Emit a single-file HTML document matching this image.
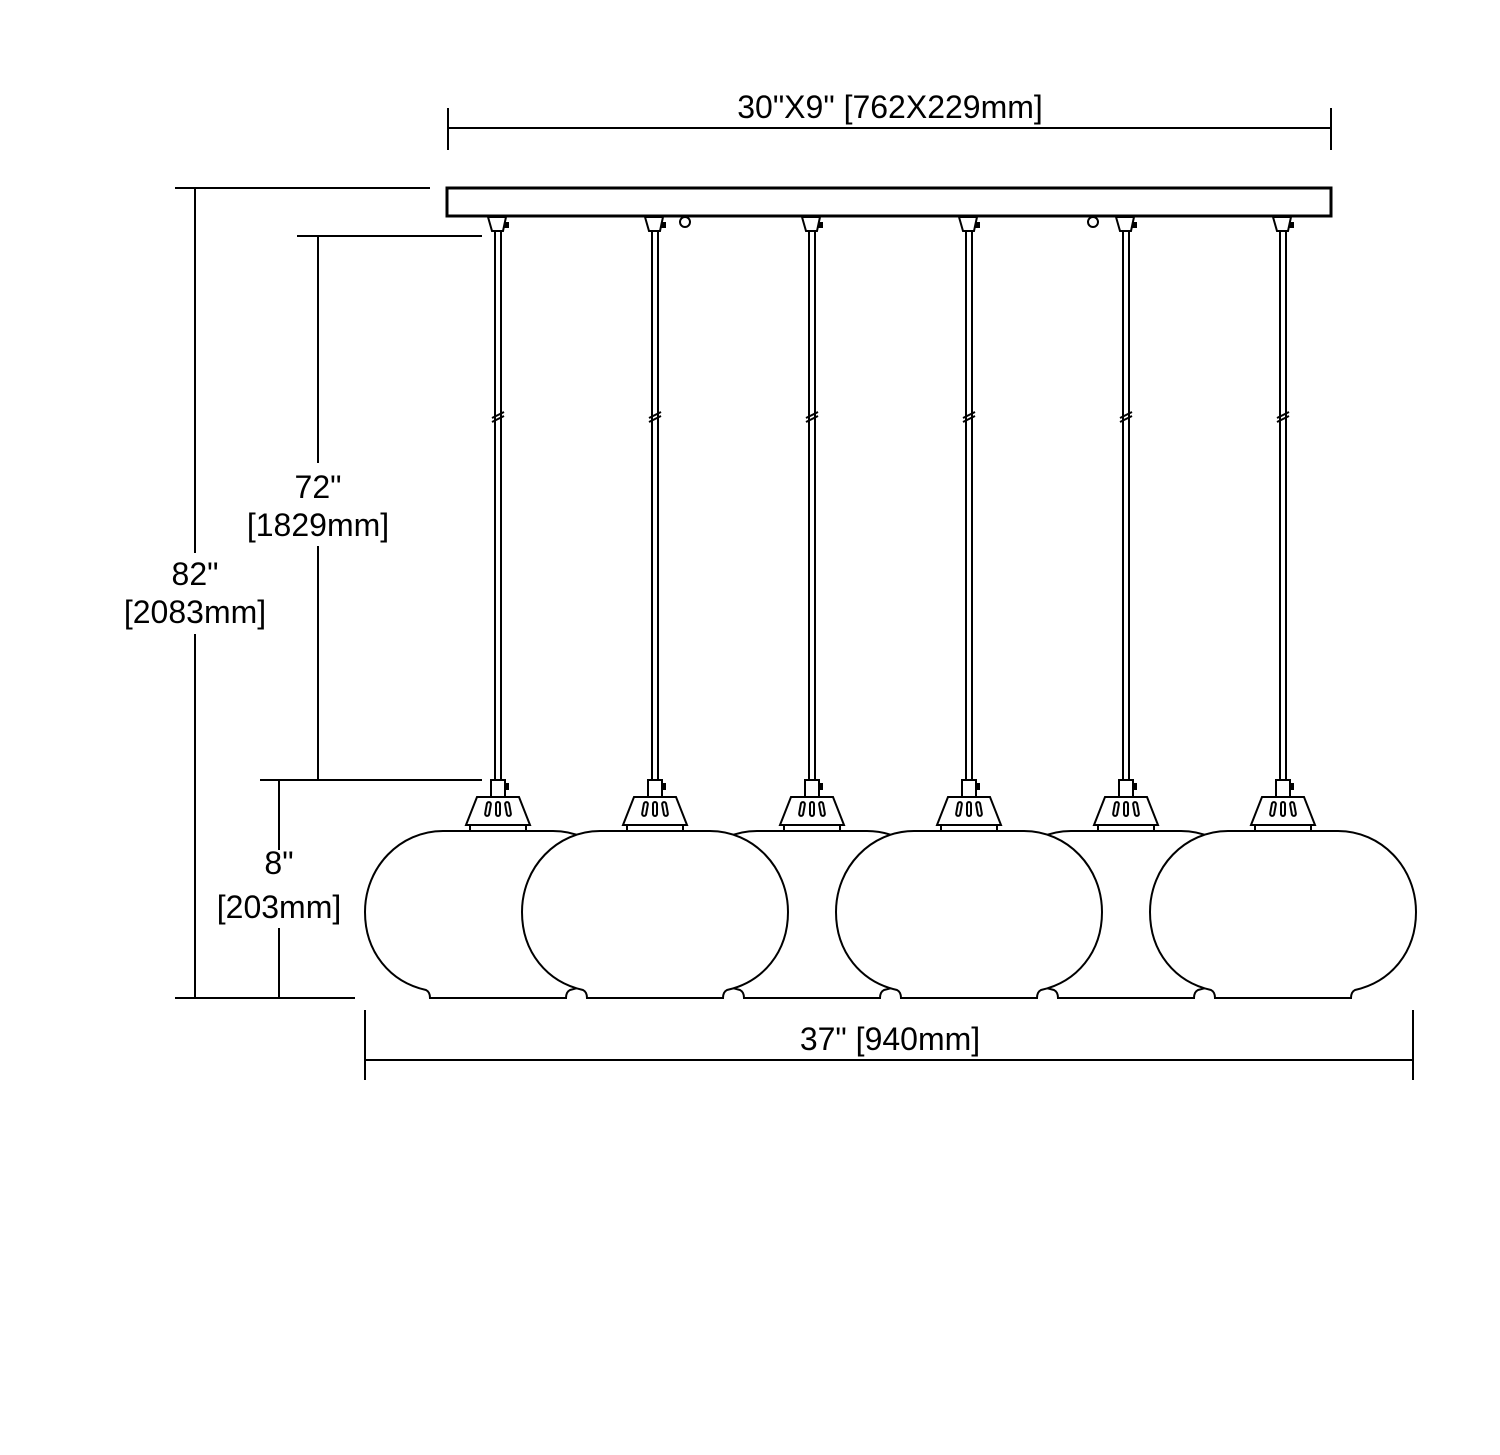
<!DOCTYPE html>
<html><head><style>
html,body{margin:0;padding:0;background:#fff}
svg{display:block}
text{font-family:"Liberation Sans",sans-serif;font-size:32px;fill:#000;text-anchor:middle}
</style></head><body>
<svg width="1500" height="1455" viewBox="0 0 1500 1455" xmlns="http://www.w3.org/2000/svg">
<defs>
<path id="g" d="M-55,831 L55,831 C98,831 133,867 133,912 C133,952 108,982 72,990 Q68,992 68,998 L-68,998 Q-68,992 -72,990 C-108,982 -133,952 -133,912 C-133,867 -98,831 -55,831 Z" fill="#fff" stroke="#000" stroke-width="2"/>
<g id="p" stroke="#000" stroke-width="2" fill="#fff">
<path d="M-10,217 L8,217 L5,231 L-6,231 Z"/>
<rect x="6" y="222" width="5" height="6" fill="#000" stroke="none"/>
<line x1="-3" y1="231" x2="-3" y2="780"/>
<line x1="3" y1="231" x2="3" y2="780"/>
<line x1="-6" y1="418" x2="6" y2="412"/>
<line x1="-6" y1="422" x2="6" y2="416"/>
<rect x="-7" y="780" width="14" height="17"/>
<rect x="7" y="783" width="4" height="7" fill="#000" stroke="none"/>
<path d="M-21,797 L21,797 L32,825 L-32,825 Z"/>
<rect x="-28" y="825" width="56" height="6"/>
<rect x="-12" y="802" width="4" height="14" rx="2" transform="rotate(10 -10 809)"/>
<rect x="-2" y="802" width="4" height="14" rx="2"/>
<rect x="8" y="802" width="4" height="14" rx="2" transform="rotate(-10 10 809)"/>
</g>
</defs>
<g stroke="#000" stroke-width="2" fill="none">
<line x1="448" y1="128" x2="1331" y2="128"/>
<line x1="448" y1="108" x2="448" y2="150"/>
<line x1="1331" y1="108" x2="1331" y2="150"/>
<rect x="447" y="188" width="884" height="28" stroke-width="3"/>
<circle cx="685" cy="222" r="5"/>
<circle cx="1093" cy="222" r="5"/>
<line x1="175" y1="188" x2="430" y2="188"/>
<line x1="175" y1="998" x2="355" y2="998"/>
<line x1="195" y1="188" x2="195" y2="553"/>
<line x1="195" y1="634" x2="195" y2="998"/>
<line x1="297" y1="236" x2="482" y2="236"/>
<line x1="318" y1="236" x2="318" y2="463"/>
<line x1="318" y1="546" x2="318" y2="780"/>
<line x1="260" y1="780" x2="482" y2="780"/>
<line x1="279" y1="780" x2="279" y2="850"/>
<line x1="279" y1="928" x2="279" y2="998"/>
<line x1="365" y1="1060" x2="1413" y2="1060"/>
<line x1="365" y1="1010" x2="365" y2="1080"/>
<line x1="1413" y1="1010" x2="1413" y2="1080"/>
</g>
<use href="#g" transform="translate(812,0)"/>
<use href="#g" transform="translate(1126,0)"/>
<use href="#g" transform="translate(498,0)"/>
<use href="#g" transform="translate(655,0)"/>
<use href="#g" transform="translate(969,0)"/>
<use href="#g" transform="translate(1283,0)"/>
<use href="#p" transform="translate(498,0)"/>
<use href="#p" transform="translate(655,0)"/>
<use href="#p" transform="translate(812,0)"/>
<use href="#p" transform="translate(969,0)"/>
<use href="#p" transform="translate(1126,0)"/>
<use href="#p" transform="translate(1283,0)"/>
<text x="890" y="118">30"X9" [762X229mm]</text>
<text x="318" y="498">72"</text>
<text x="318" y="536">[1829mm]</text>
<text x="195" y="585">82"</text>
<text x="195" y="623">[2083mm]</text>
<text x="279" y="874">8"</text>
<text x="279" y="918">[203mm]</text>
<text x="890" y="1050">37" [940mm]</text>
</svg>
</body></html>
